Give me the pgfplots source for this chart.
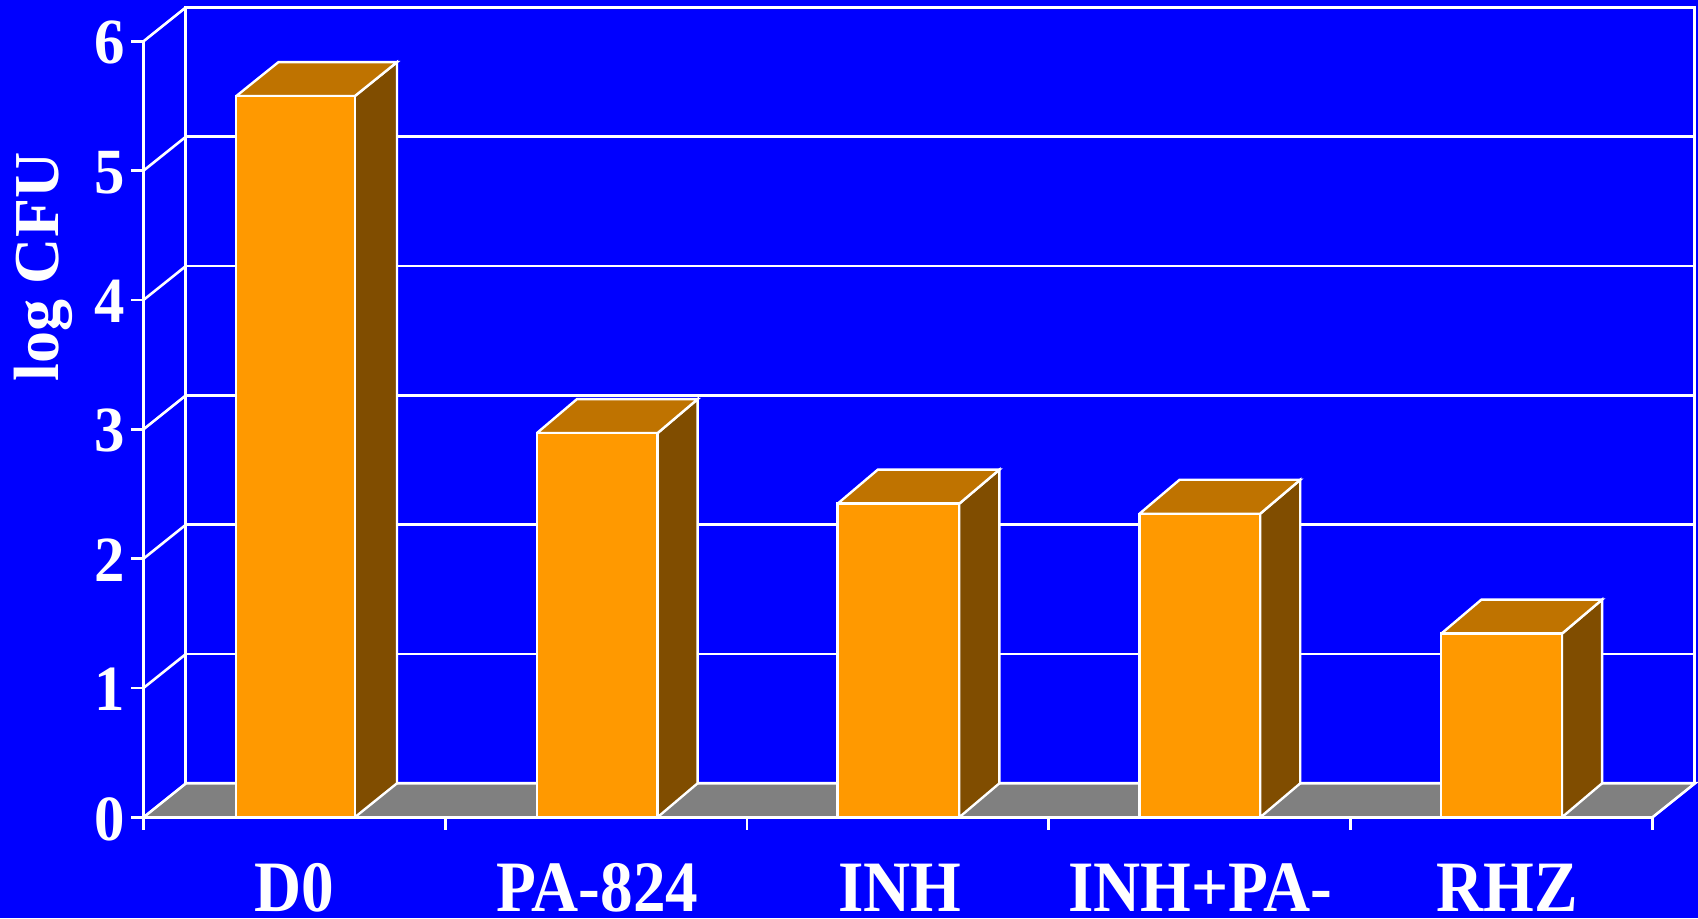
\documentclass[border=0pt]{standalone}
\usepackage{fontspec}
\setmainfont{Liberation Serif}
\usepackage{pgfplots}
\pgfplotsset{compat=1.18}
\definecolor{slide}{RGB}{0,0,255}
\definecolor{barfront}{RGB}{255,153,0}
\definecolor{bartop}{RGB}{191,115,0}
\definecolor{barside}{RGB}{128,77,0}
\definecolor{floorgray}{RGB}{128,128,128}
\newcommand{\xl}[1]{\scalebox{1}[1.11]{\fontsize{32.6}{32.6}\bfseries\selectfont #1}}
\newcommand{\yl}[1]{\scalebox{1}[1.06]{\fontsize{30.4}{30.4}\bfseries\selectfont #1}}
\begin{document}
\begin{tikzpicture}
\useasboundingbox (-71.75pt,-50.35pt) rectangle (777.25pt,408.65pt);
\fill[slide] (-71.75pt,-50.35pt) rectangle (777.25pt,408.65pt);
\begin{axis}[
  anchor=origin, at={(0pt,0pt)},
  scale only axis, width=754.5pt, height=388pt,
  xmin=0, xmax=5, ymin=0, ymax=6,
  clip=false,
  axis lines=left,
  axis line style={white, line width=1.4pt, -},
  tick style={white, line width=1.4pt},
  tick align=outside,
  major tick length=6.2pt,
  xtick={0,1,2,3,4,5},
  xticklabels={},
  extra x ticks={0.5,1.504,2.507,3.502,4.518},
  extra x tick labels={\xl{D0},\xl{PA-824},\xl{INH},\xl{INH+PA-},\xl{RHZ}},
  extra x tick style={major tick length=0pt, tick style={draw=none},
    x tick label style={white, anchor=base, inner sep=0pt, yshift=-47pt}},
  ytick={0,1,2,3,4,5,6},
  yticklabels={\yl{0},\yl{1},\yl{2},\yl{3},\yl{4},\yl{5},\yl{6}},
  y tick label style={white, anchor=east, inner sep=0pt, xshift=-3pt, yshift=-0.8pt},
  ylabel={\scalebox{1}[1.0]{\fontsize{32}{32}\bfseries\selectfont log CFU}},
  every axis y label/.style={at={(axis description cs:-0.056,0.709)}, rotate=90, anchor=base, white, inner sep=0pt},
  line join=miter,
]
% floor
\addplot[fill=floorgray, draw=white, line width=1.3pt] coordinates {(0,0) (5,0) (5.1408,0.263) (0.1408,0.263) (0,0)};
% back wall outline and gridlines
\addplot[white, line width=1.5pt] coordinates {(0.1408,0.263) (0.1408,6.263) (5.1408,6.263) (5.1408,0.263)};
\addplot[white, line width=1.3pt] coordinates {(0.1408,1.263) (5.1408,1.263)};
\addplot[white, line width=1.3pt] coordinates {(0.1408,2.263) (5.1408,2.263)};
\addplot[white, line width=1.3pt] coordinates {(0.1408,3.263) (5.1408,3.263)};
\addplot[white, line width=1.3pt] coordinates {(0.1408,4.263) (5.1408,4.263)};
\addplot[white, line width=1.3pt] coordinates {(0.1408,5.263) (5.1408,5.263)};
% side wall gridlines
\addplot[white, line width=1.3pt] coordinates {(0,1) (0.1408,1.263)};
\addplot[white, line width=1.3pt] coordinates {(0,2) (0.1408,2.263)};
\addplot[white, line width=1.3pt] coordinates {(0,3) (0.1408,3.263)};
\addplot[white, line width=1.3pt] coordinates {(0,4) (0.1408,4.263)};
\addplot[white, line width=1.3pt] coordinates {(0,5) (0.1408,5.263)};
\addplot[white, line width=1.3pt] coordinates {(0,6) (0.1408,6.263)};
% D0
\addplot[fill=barside, draw=white, line width=1.2pt] coordinates {(0.7,0) (0.84,0.263) (0.84,5.839) (0.7,5.576) (0.7,0)};
\addplot[fill=bartop, draw=white, line width=1.2pt] coordinates {(0.307,5.576) (0.7,5.576) (0.84,5.839) (0.447,5.839) (0.307,5.576)};
\addplot[ybar, bar width=0.393, fill=barfront, draw=white, line width=1.2pt] coordinates {(0.5035,5.576)};
% PA-824
\addplot[fill=barside, draw=white, line width=1.2pt] coordinates {(1.703,0) (1.836,0.263) (1.836,3.233) (1.703,2.97) (1.703,0)};
\addplot[fill=bartop, draw=white, line width=1.2pt] coordinates {(1.303,2.97) (1.703,2.97) (1.836,3.233) (1.436,3.233) (1.303,2.97)};
\addplot[ybar, bar width=0.4, fill=barfront, draw=white, line width=1.2pt] coordinates {(1.503,2.97)};
% INH
\addplot[fill=barside, draw=white, line width=1.2pt] coordinates {(2.703,0) (2.836,0.263) (2.836,2.688) (2.703,2.425) (2.703,0)};
\addplot[fill=bartop, draw=white, line width=1.2pt] coordinates {(2.3,2.425) (2.703,2.425) (2.836,2.688) (2.433,2.688) (2.3,2.425)};
\addplot[ybar, bar width=0.403, fill=barfront, draw=white, line width=1.2pt] coordinates {(2.5015,2.425)};
% INH+PA-
\addplot[fill=barside, draw=white, line width=1.2pt] coordinates {(3.7,0) (3.833,0.263) (3.833,2.61) (3.7,2.347) (3.7,0)};
\addplot[fill=bartop, draw=white, line width=1.2pt] coordinates {(3.3,2.347) (3.7,2.347) (3.833,2.61) (3.433,2.61) (3.3,2.347)};
\addplot[ybar, bar width=0.4, fill=barfront, draw=white, line width=1.2pt] coordinates {(3.5,2.347)};
% RHZ
\addplot[fill=barside, draw=white, line width=1.2pt] coordinates {(4.7,0) (4.833,0.263) (4.833,1.683) (4.7,1.42) (4.7,0)};
\addplot[fill=bartop, draw=white, line width=1.2pt] coordinates {(4.3,1.42) (4.7,1.42) (4.833,1.683) (4.433,1.683) (4.3,1.42)};
\addplot[ybar, bar width=0.4, fill=barfront, draw=white, line width=1.2pt] coordinates {(4.5,1.42)};
\end{axis}
\end{tikzpicture}
\end{document}
